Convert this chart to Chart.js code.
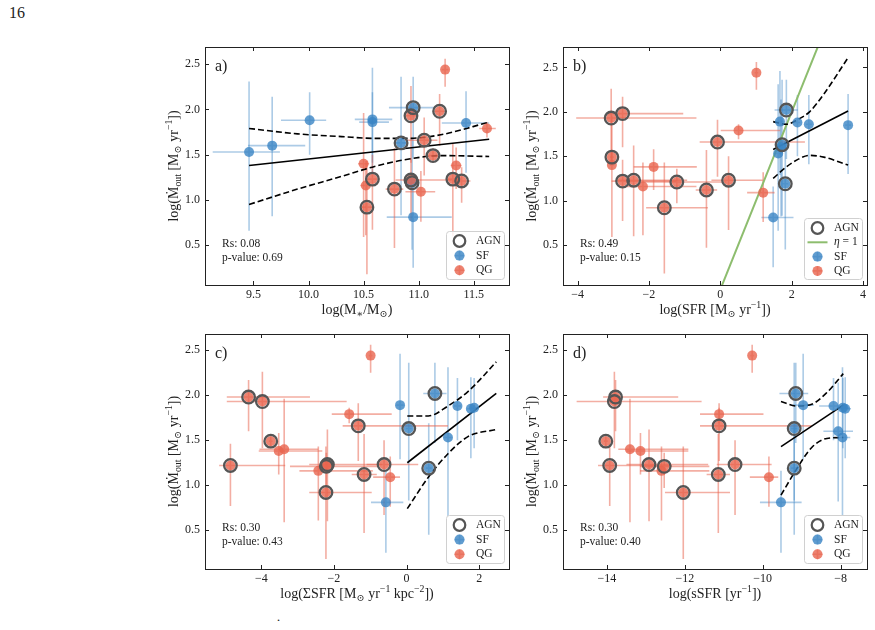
<!DOCTYPE html>
<html>
<head>
<meta charset="utf-8">
<script src="https://cdn.jsdelivr.net/npm/chart.js@4.4.1/dist/chart.umd.min.js"></script>
<style>
  body { margin: 0; background: #fff; width: 875px; height: 630px; position: relative; overflow: hidden; font-family: "Liberation Serif", "DejaVu Serif", serif; }
  canvas { position: absolute; }
  #pg { position: absolute; left: 9px; top: 4px; font-size: 16px; color: #222; }
  #dot { position: absolute; left: 276px; top: 616px; font-size: 15px; color: #222; }
</style>
</head>
<body>
<div id="pg">16</div>
<div id="dot">˙</div>
<canvas id="ca"></canvas>
<canvas id="cb"></canvas>
<canvas id="cc"></canvas>
<canvas id="cd"></canvas>
<script>
// objetos: 10 SF primero, luego 16 QG (los 10 ultimos QG son AGN)
const kind = ['SF','SF','SF','SF','SF','SF','SF','SF','SF','SF',
              'QG','QG','QG','QG','QG','QG','QG','QG','QG','QG','QG','QG','QG','QG','QG','QG'];
const agn  = [0,0,0,0,0,1,0,0,1,1, 0,0,0,0,0,0, 1,1,1,1,1,1,1,1,1,1];

// log(Mdot_out) y errores
const mout   = [1.53,1.60,1.88,1.89,1.86,2.02,1.85,0.81,1.63,1.19, 2.44,1.79,1.40,1.38,1.16,1.09, 1.98,1.93,1.66,1.49,1.22,1.23,1.21,1.23,1.12,0.92];
const moutHi = [0.78,0.54,0.31,0.57,0.33,0.34,0.35,0.35,0.73,0.50, 0.12,0.07,0.56,0.20,0.27,0.23, 0.19,0.33,0.25,0.08,0.24,0.39,0.15,0.27,0.45,0.51];
const moutLo = [0.87,0.78,0.38,0.60,0.45,0.55,0.55,0.56,0.80,0.74, 0.19,0.10,0.81,0.26,0.55,0.33, 0.38,0.52,0.39,0.08,0.45,0.63,0.24,0.56,0.65,0.74];

// a) masa estelar
const massX  = [9.46,9.67,10.01,10.58,10.58,10.95,11.43,10.95,10.84,10.94, 11.24,11.62,10.50,11.34,10.52,11.02, 11.19,10.93,11.05,11.13,10.93,11.31,11.39,10.58,10.78,10.53];
const massLo = [0.33,0.22,0.26,0.16,0.12,0.22,0.22,0.24,0.05,0.05, 0.03,0.07,0.05,0.05,0.05,0.14, 0.05,0.05,0.17,0.04,0.14,0.06,0.08,0.05,0.08,0.05];
const massHi = [0.28,0.30,0.15,0.18,0.15,0.19,0.21,0.35,0.05,0.05, 0.03,0.08,0.05,0.05,0.05,0.13, 0.05,0.05,0.12,0.04,0.37,0.06,0.08,0.05,0.08,0.05];

// b) SFR
const sfrX  = [1.62,1.70,2.16,1.67,2.48,1.85,3.58,1.48,1.73,1.82, 1.01,0.51,-3.04,-1.87,-2.17,1.20, -2.74,-3.06,-0.08,-3.04,-2.74,-2.43,-1.22,0.23,-0.39,-1.57];
const sfrLo = [0.08,0.08,0.08,0.10,0.08,0.33,0.08,0.33,0.08,0.08, 0.05,0.50,0.05,0.56,0.60,0.45, 0.45,0.98,0.50,0.05,0.31,0.50,1.00,0.48,0.30,0.51];
const sfrHi = [0.08,0.08,0.08,0.10,0.08,0.32,0.08,0.57,0.08,0.08, 0.05,1.17,0.05,1.21,1.50,0.32, 1.70,2.39,2.45,0.05,1.51,1.50,1.39,0.96,0.30,1.22];

// c) densidad de SFR
const sigX  = [1.14,null,1.40,-0.18,1.86,0.78,1.77,-0.57,0.06,0.61, -0.99,-1.58,-3.37,-3.52,-2.43,-0.45, -4.35,-3.97,-1.33,-3.74,-4.85,-2.18,-2.21,-0.62,-1.17,-2.22];
const sigLo = [0.10,0,0.10,0.10,0.10,0.32,0.10,0.41,0.08,0.08, 0.05,0.48,0.68,0.55,0.52,0.47, 0.60,0.98,0.43,0.05,0.31,0.50,1.00,0.48,0.34,0.46];
const sigHi = [0.10,0,0.10,0.10,0.10,0.32,0.10,0.48,0.08,0.08, 0.05,1.17,0.94,1.20,1.50,0.27, 1.69,2.32,2.47,0.05,1.51,1.50,1.40,0.94,0.35,1.26];

// d) sSFR
const ssfrX  = [-7.95,-8.06,-8.18,-8.96,-7.94,-9.15,-7.88,-9.53,-9.19,-9.19, -10.27,-11.12,-13.41,-13.14,-12.60,-9.84, -13.78,-13.81,-11.12,-14.03,-13.93,-12.92,-12.53,-10.71,-11.14,-12.04];
const ssfrLo = [0.20,0.38,0.37,0.27,0.15,0.42,0.15,0.54,0.08,0.08, 0.05,0.49,0.30,0.36,0.55,0.49, 0.32,0.97,0.49,0.05,0.30,0.58,0.62,0.47,0.30,0.47];
const ssfrHi = [0.20,0.38,0.37,0.27,0.15,0.32,0.15,0.53,0.08,0.08, 0.05,1.14,1.50,1.23,1.23,0.24, 1.61,2.24,2.38,0.05,1.60,1.52,1.16,0.94,0.30,1.20];

// ajustes y bandas
const fitAX = [9.46, 11.64], fitAY = [1.38, 1.67];
const bandAX = [9.46, 9.9, 10.3, 10.6, 10.9, 11.2, 11.64];
const bandAHi = [1.79, 1.73, 1.70, 1.68, 1.68, 1.72, 1.86];
const bandALo = [0.95, 1.12, 1.26, 1.37, 1.45, 1.49, 1.48];

const fitBX = [1.48, 3.58], fitBY = [1.575, 2.01];
const bandBX = [1.48, 1.85, 2.2, 2.5, 2.9, 3.58];
const bandBHi = [1.89, 1.86, 1.92, 2.00, 2.20, 2.61];
const bandBLo = [1.25, 1.38, 1.47, 1.51, 1.49, 1.40];
const etaX = [-1, 4], etaY = [-1, 4];

const fitCX = [0.02, 2.47], fitCY = [1.25, 2.02];
const bandCX = [0.02, 0.6, 1.14, 1.69, 2.47];
const bandCHi = [1.77, 1.77, 1.88, 2.04, 2.37];
const bandCLo = [0.74, 1.09, 1.35, 1.54, 1.62];

const fitDX = [-9.53, -7.93], fitDY = [1.43, 1.89];
const bandDX = [-9.53, -9.13, -8.74, -8.35, -7.93];
const bandDHi = [1.93, 1.88, 1.90, 2.03, 2.24];
const bandDLo = [0.89, 1.18, 1.42, 1.52, 1.53];

// ticks
const yTicks = [0.5, 1.0, 1.5, 2.0, 2.5];
const xTicksA = [9.5, 10.0, 10.5, 11.0, 11.5];
const xTicksB = [-4, -2, 0, 2, 4];
const xTicksC = [-4, -2, 0, 2];
const xTicksD = [-14, -12, -10, -8];

const FONT = '"Liberation Serif", "DejaVu Serif", serif';
const sfCol = 'rgba(58,132,196,0.8)', qgCol = 'rgba(232,100,78,0.8)';
const sfErr = 'rgba(58,132,196,0.42)', qgErr = 'rgba(232,100,78,0.52)';
const agnCol = '#555', etaCol = '#8dbd6e';

const fmt1 = v => v.toFixed(1);
const fmtI = v => (v < 0 ? '\u2212' + Math.abs(v) : String(v));

const yTitle = [['log(\u1E40', 'n'], ['out', 'b'], [' [M', 'n'], ['\u2299', 'b'], [' yr', 'n'], ['\u22121', 'p'], ['])', 'n']];

const panels = [
  { id: 'ca', box: [150, 33, 370, 293], frame: [205, 509, 47, 285], xr: [9.06, 11.82], yr: [0.06, 2.69],
    xt: xTicksA, fmt: fmt1, xs: massX, xlo: massLo, xhi: massHi,
    fit: [fitAX, fitAY], band: [bandAX, bandAHi, bandALo], eta: false, tag: 'a)', rs: '0.08', pv: '0.69',
    xTitle: [['log(M', 'n'], ['\u2217', 'b'], ['/M', 'n'], ['\u2299', 'b'], [')', 'n']] },
  { id: 'cb', box: [508, 33, 370, 293], frame: [563, 867, 47, 285], xr: [-4.41, 4.11], yr: [0.05, 2.73],
    xt: xTicksB, fmt: fmtI, xs: sfrX, xlo: sfrLo, xhi: sfrHi,
    fit: [fitBX, fitBY], band: [bandBX, bandBHi, bandBLo], eta: true, tag: 'b)', rs: '0.49', pv: '0.15',
    xTitle: [['log(SFR [M', 'n'], ['\u2299', 'b'], [' yr', 'n'], ['\u22121', 'p'], ['])', 'n']] },
  { id: 'cc', box: [150, 320, 370, 298], frame: [205, 509, 334, 569], xr: [-5.55, 2.82], yr: [0.07, 2.68],
    xt: xTicksC, fmt: fmtI, xs: sigX, xlo: sigLo, xhi: sigHi,
    fit: [fitCX, fitCY], band: [bandCX, bandCHi, bandCLo], eta: false, tag: 'c)', rs: '0.30', pv: '0.43',
    xTitle: [['log(\u03A3SFR [M', 'n'], ['\u2299', 'b'], [' yr', 'n'], ['\u22121', 'p'], [' kpc', 'n'], ['\u22122', 'p'], ['])', 'n']] },
  { id: 'cd', box: [508, 320, 370, 298], frame: [563, 867, 334, 569], xr: [-15.13, -7.32], yr: [0.07, 2.68],
    xt: xTicksD, fmt: fmtI, xs: ssfrX, xlo: ssfrLo, xhi: ssfrHi,
    fit: [fitDX, fitDY], band: [bandDX, bandDHi, bandDLo], eta: false, tag: 'd)', rs: '0.30', pv: '0.40',
    xTitle: [['log(sSFR [yr', 'n'], ['\u22121', 'p'], ['])', 'n']] }
];

function rich(ctx, segs, cx, cy, size) {
  const base = size + 'px ' + FONT, small = (size * 0.7).toFixed(1) + 'px ' + FONT;
  let w = 0;
  for (const [t, m] of segs) { ctx.font = m === 'n' ? base : small; w += ctx.measureText(t).width; }
  let x = cx - w / 2;
  ctx.textAlign = 'left';
  ctx.textBaseline = 'alphabetic';
  for (const [t, m] of segs) {
    ctx.font = m === 'n' ? base : small;
    const dy = m === 'b' ? size * 0.22 : m === 'p' ? -size * 0.42 : 0;
    ctx.fillText(t, x, cy + size * 0.33 + dy);
    x += ctx.measureText(t).width;
  }
}

function xy(arr) {
  return arr[0].map((v, i) => ({ x: v, y: arr[1][i] }));
}

function makeDecor(p) {
  return {
    id: 'decor',
    beforeDatasetsDraw(chart) {
      const { ctx, chartArea: a, scales: { x, y } } = chart;
      ctx.save();
      ctx.beginPath();
      ctx.rect(a.left, a.top, a.right - a.left, a.bottom - a.top);
      ctx.clip();
      ctx.lineWidth = 1.6;
      for (const k of ['SF', 'QG']) {
        ctx.strokeStyle = k === 'SF' ? sfErr : qgErr;
        for (let i = 0; i < mout.length; i++) {
          if (kind[i] !== k || p.xs[i] === null) continue;
          const xv = p.xs[i];
          const px = x.getPixelForValue(xv), py = y.getPixelForValue(mout[i]);
          ctx.beginPath();
          ctx.moveTo(x.getPixelForValue(xv - p.xlo[i]), py);
          ctx.lineTo(x.getPixelForValue(xv + p.xhi[i]), py);
          ctx.moveTo(px, y.getPixelForValue(mout[i] - moutLo[i]));
          ctx.lineTo(px, y.getPixelForValue(mout[i] + moutHi[i]));
          ctx.stroke();
        }
      }
      ctx.restore();
    },
    afterDraw(chart) {
      const { ctx, chartArea: a, scales: { x, y } } = chart;
      ctx.save();
      // marco y ticks hacia dentro
      ctx.strokeStyle = '#222';
      ctx.lineWidth = 1;
      ctx.strokeRect(Math.round(a.left) + 0.5, Math.round(a.top) + 0.5, Math.round(a.right - a.left), Math.round(a.bottom - a.top));
      ctx.beginPath();
      for (const v of p.xt) {
        const px = Math.round(x.getPixelForValue(v)) + 0.5;
        ctx.moveTo(px, a.bottom); ctx.lineTo(px, a.bottom - 4);
        ctx.moveTo(px, a.top); ctx.lineTo(px, a.top + 4);
      }
      for (const v of yTicks) {
        const py = Math.round(y.getPixelForValue(v)) + 0.5;
        ctx.moveTo(a.left, py); ctx.lineTo(a.left + 4, py);
        ctx.moveTo(a.right, py); ctx.lineTo(a.right - 4, py);
      }
      ctx.stroke();

      // titulos de ejes
      ctx.fillStyle = '#222';
      rich(ctx, p.xTitle, (a.left + a.right) / 2, a.bottom + 24, 14);
      ctx.save();
      ctx.translate(a.left - 32, (a.top + a.bottom) / 2);
      ctx.rotate(-Math.PI / 2);
      rich(ctx, yTitle, 0, 0, 14);
      ctx.restore();

      // etiqueta y estadistica
      ctx.textAlign = 'left';
      ctx.textBaseline = 'middle';
      ctx.font = '16px ' + FONT;
      ctx.fillText(p.tag, a.left + 10, a.top + 20);
      ctx.font = '11.5px ' + FONT;
      ctx.fillText('Rs: ' + p.rs, a.left + 17, a.bottom - 41);
      ctx.fillText('p-value: ' + p.pv, a.left + 17, a.bottom - 27);

      // leyenda
      const rows = p.eta ? ['AGN', 'eta', 'SF', 'QG'] : ['AGN', 'SF', 'QG'];
      const bw = 58, bh = p.eta ? 61 : 48;
      const bx = a.right - 5 - bw, by = a.bottom - 6 - bh;
      ctx.beginPath();
      ctx.roundRect(bx + 0.5, by + 0.5, bw, bh, 3);
      ctx.fillStyle = 'rgba(255,255,255,0.85)';
      ctx.fill();
      ctx.strokeStyle = '#d0d0d0';
      ctx.stroke();
      const step = p.eta ? 14.3 : 14.6;
      rows.forEach((r, j) => {
        const cy = by + 10 + j * step, mx = bx + 13.5;
        if (r === 'AGN') {
          ctx.beginPath(); ctx.arc(mx, cy, 5.8, 0, Math.PI * 2);
          ctx.strokeStyle = agnCol; ctx.lineWidth = 2.2; ctx.stroke();
        } else if (r === 'eta') {
          ctx.beginPath(); ctx.moveTo(mx - 10, cy); ctx.lineTo(mx + 10, cy);
          ctx.strokeStyle = etaCol; ctx.lineWidth = 2; ctx.stroke();
        } else {
          ctx.beginPath(); ctx.arc(mx, cy, 5, 0, Math.PI * 2);
          ctx.fillStyle = r === 'SF' ? sfCol : qgCol; ctx.fill();
          ctx.strokeStyle = r === 'SF' ? sfErr : qgErr; ctx.lineWidth = 1.6;
          ctx.beginPath(); ctx.moveTo(mx - 5, cy); ctx.lineTo(mx + 5, cy);
          ctx.moveTo(mx, cy - 5); ctx.lineTo(mx, cy + 5); ctx.stroke();
        }
        ctx.fillStyle = '#222';
        if (r === 'eta') {
          ctx.font = 'italic 11.5px ' + FONT;
          ctx.fillText('\u03B7', bx + 30, cy);
          const w = ctx.measureText('\u03B7').width;
          ctx.font = '11.5px ' + FONT;
          ctx.fillText(' = 1', bx + 30 + w, cy);
        } else {
          ctx.font = '11.5px ' + FONT;
          ctx.fillText(r, bx + 30, cy);
        }
      });
      ctx.restore();
    }
  };
}

function pts(p, k, onlyAgn) {
  const out = [];
  for (let i = 0; i < mout.length; i++) {
    if (p.xs[i] === null) continue;
    if (onlyAgn ? agn[i] : kind[i] === k) out.push({ x: p.xs[i], y: mout[i] });
  }
  return out;
}

for (const p of panels) {
  const cv = document.getElementById(p.id);
  const [L, T, W, H] = p.box;
  cv.style.left = L + 'px'; cv.style.top = T + 'px';
  cv.width = W; cv.height = H;
  const yW = p.frame[0] - L, padT = p.frame[2] - T, padR = L + W - p.frame[1], xH = T + H - p.frame[3];

  const lineBase = { showLine: true, pointRadius: 0, borderColor: '#000', borderWidth: 1.6, fill: false };
  const datasets = [
    { label: 'AGN', data: pts(p, null, true), pointRadius: 6.3, pointBackgroundColor: 'rgba(0,0,0,0)',
      pointBorderColor: agnCol, pointBorderWidth: 2.3, order: 0 },
    { label: 'QG', data: pts(p, 'QG'), pointRadius: 5, pointBackgroundColor: qgCol, pointBorderWidth: 0, order: 1 },
    { label: 'SF', data: pts(p, 'SF'), pointRadius: 5, pointBackgroundColor: sfCol, pointBorderWidth: 0, order: 2 },
    Object.assign({ label: 'fit', data: xy(p.fit), order: 3 }, lineBase),
    Object.assign({ label: 'hi', data: xy([p.band[0], p.band[1]]), borderDash: [6, 3], cubicInterpolationMode: 'monotone', order: 3 }, lineBase),
    Object.assign({ label: 'lo', data: xy([p.band[0], p.band[2]]), borderDash: [6, 3], cubicInterpolationMode: 'monotone', order: 3 }, lineBase)
  ];
  if (p.eta) {
    datasets.push(Object.assign({}, lineBase, { label: 'eta', data: xy([etaX, etaY]), borderColor: etaCol, borderWidth: 2, order: 4 }));
  }

  new Chart(cv, {
    type: 'scatter',
    data: { datasets },
    options: {
      responsive: false,
      animation: false,
      events: [],
      layout: { padding: { left: 0, top: padT, right: padR, bottom: 0 } },
      plugins: { legend: { display: false }, tooltip: { enabled: false } },
      scales: {
        x: {
          type: 'linear', min: p.xr[0], max: p.xr[1],
          afterBuildTicks: s => { s.ticks = p.xt.map(v => ({ value: v })); },
          afterFit: s => { s.height = xH; },
          grid: { display: false, drawTicks: false },
          border: { display: false },
          ticks: { autoSkip: false, maxRotation: 0, padding: 3, color: '#222',
                   font: { family: FONT, size: 12 }, callback: v => p.fmt(v) }
        },
        y: {
          type: 'linear', min: p.yr[0], max: p.yr[1],
          afterBuildTicks: s => { s.ticks = yTicks.map(v => ({ value: v })); },
          afterFit: s => { s.width = yW; },
          grid: { display: false, drawTicks: false },
          border: { display: false },
          ticks: { autoSkip: false, padding: 5, color: '#222',
                   font: { family: FONT, size: 12 }, callback: v => fmt1(v) }
        }
      }
    },
    plugins: [makeDecor(p)]
  });
}
</script>
</body>
</html>
